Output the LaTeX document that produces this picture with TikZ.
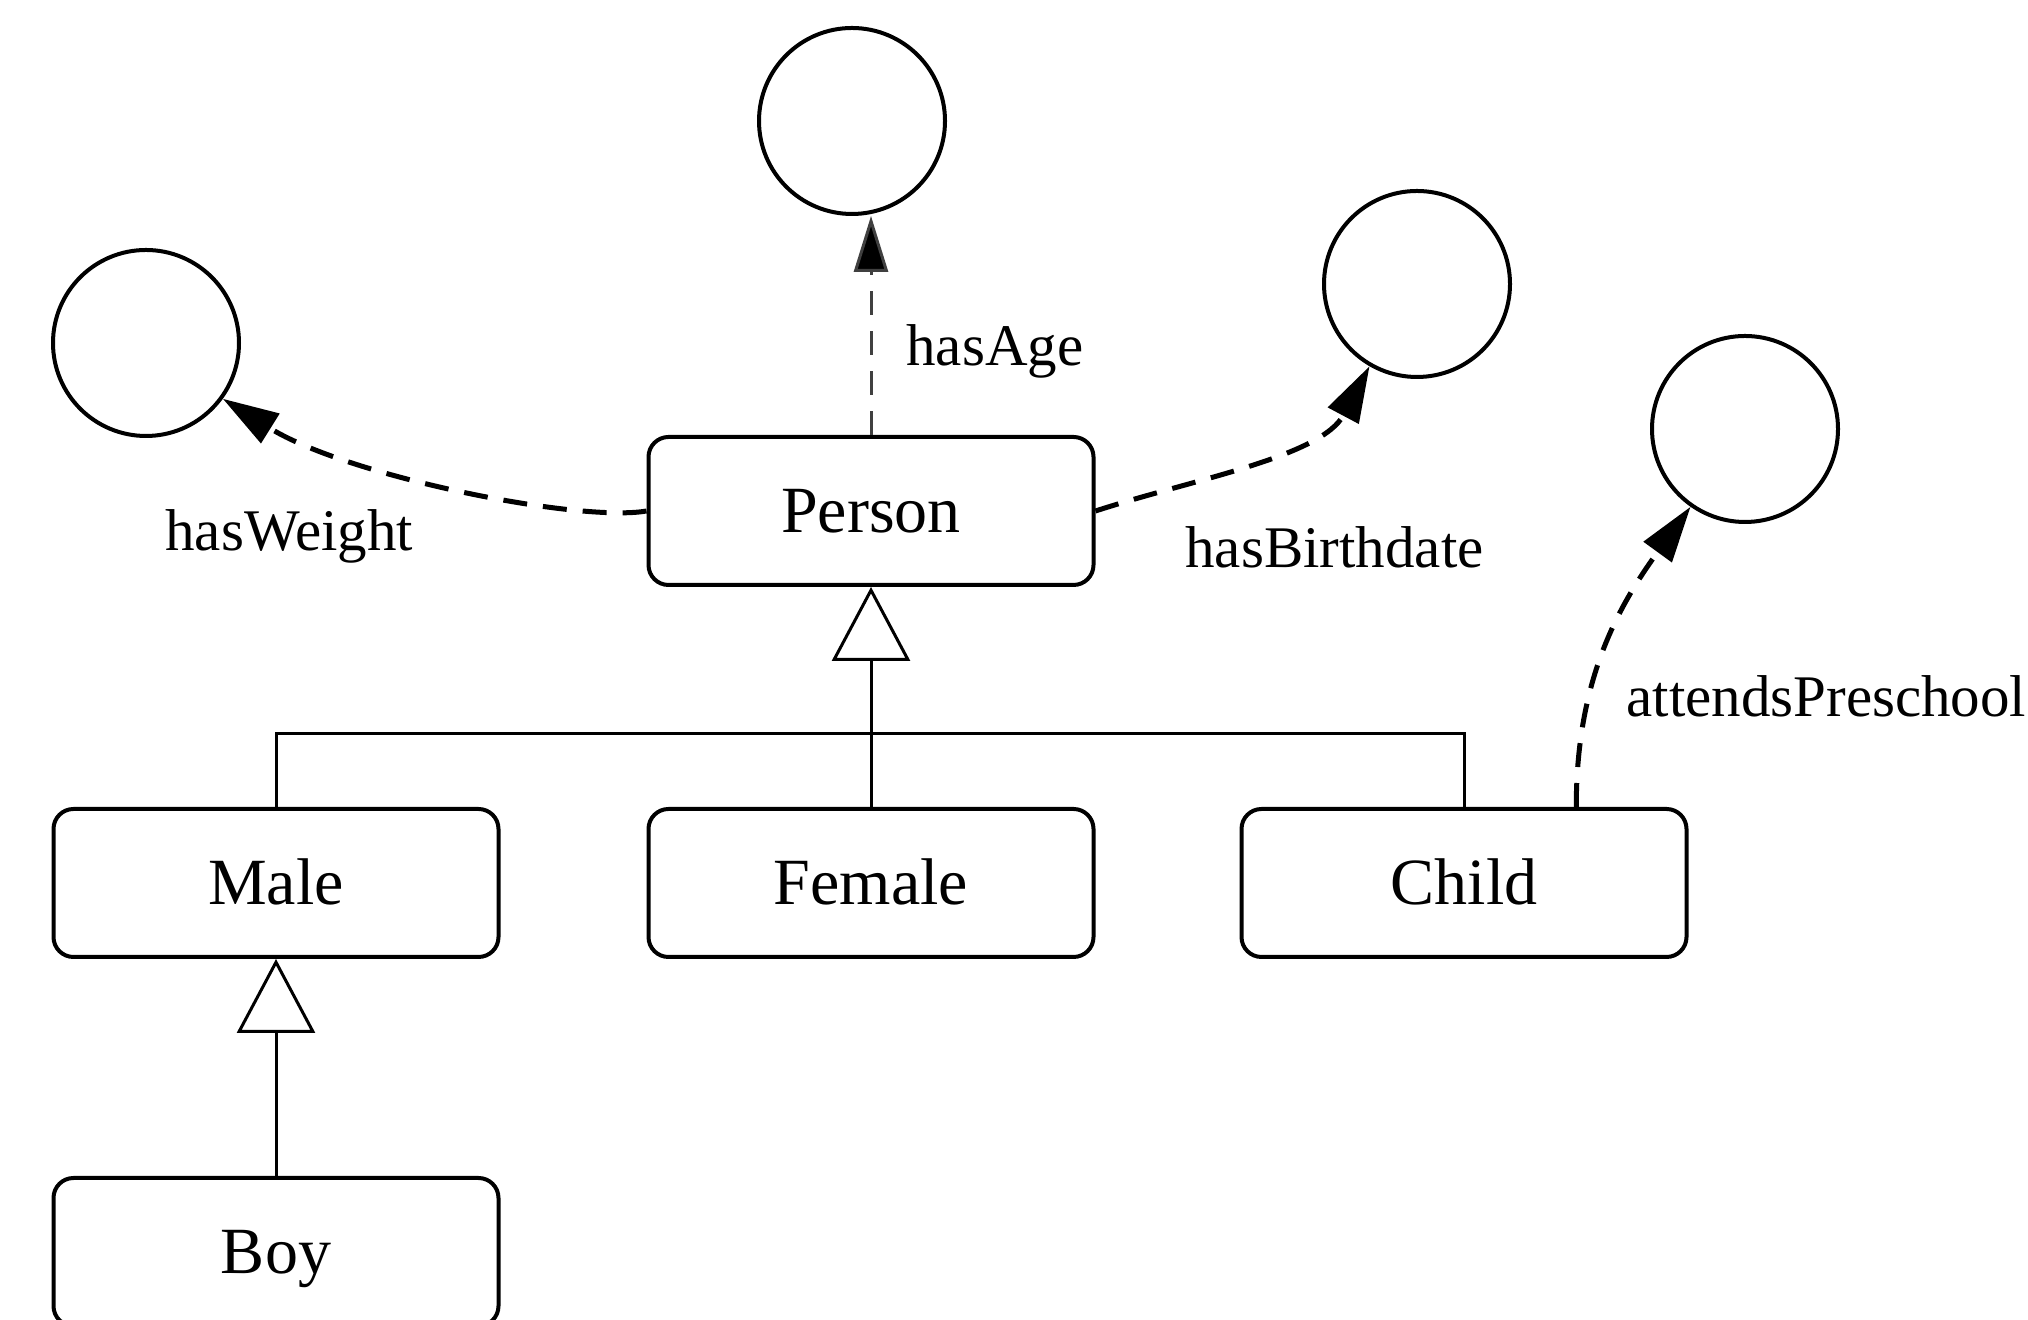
\documentclass[tikz,border=0pt]{standalone}
\usepackage{fontspec}
\setmainfont{Liberation Serif}
\usetikzlibrary{arrows.meta,calc}
\begin{document}
\begin{tikzpicture}[x=0.5pt,y=0.5pt,
  cls/.style={draw, line width=2pt, rounded corners=10pt, minimum width=222.5pt, minimum height=74pt, inner sep=0pt, text height=22pt, text depth=0pt, font=\fontsize{33}{36}\selectfont},
  val/.style={draw, circle, line width=2pt, minimum size=93pt, inner sep=0pt},
  lbl/.style={anchor=base west, inner sep=0pt, font=\fontsize{29.5}{32}\selectfont},
  prop/.style={line width=2.5pt, dash pattern=on 12pt off 8pt, -{Triangle[length=28pt,width=17pt]}},
  propthin/.style={line width=1.5pt, draw=black!75, dash pattern=on 12pt off 8pt, -{Triangle[length=28pt,width=17pt,fill=black]}},
  isa/.style={line width=1.5pt, -{Triangle[open,length=37pt,width=39pt]}},
  tree/.style={line width=1.5pt}
]
\fill[white] (0,0) rectangle (2028,1320);
\useasboundingbox (0,0) rectangle (2028,1320);

% class boxes
\node[cls] (person) at (871,809) {Person};
\node[cls] (male)   at (276,437) {Male};
\node[cls] (female) at (871,437) {Female};
\node[cls] (child)  at (1464,437) {Child};
\node[cls] (boy)    at (276,68) {Boy};

% value circles
\node[val] (agecirc)    at (852,1199) {};
\node[val] (weightcirc) at (146,977) {};
\node[val] (birthcirc)  at (1417,1036) {};
\node[val] (schoolcirc) at (1745,891) {};

% hierarchy
\coordinate (bar) at (871,586);
\draw[tree] (male.north) |- (bar) -| (child.north);
\draw[isa] (female.north) -- (person.south);
\draw[isa] (boy.north) -- (male.south);

% properties
\draw[propthin] (person.north) -- (agecirc.south -| person.north);
\draw[prop] (person.west) to[out=190,in=-32,out looseness=0.4,in looseness=0.85] (weightcirc.-36);
\draw[prop] (person.east) to[out=18,in=-118,looseness=0.85] (birthcirc.240);
\coordinate (cstart) at ($(child.north west)!0.75!(child.north east)$);
\draw[prop] (cstart) to[out=90,in=-126] (schoolcirc.235);

% labels
\node[lbl] (lage)    at (906,954) {hasAge};
\node[lbl] (lweight) at (165,769) {hasWeight};
\node[lbl] (lbirth)  at (1185,752) {hasBirthdate};
\node[lbl] (lschool) at (1626,603) {attendsPreschool};
\end{tikzpicture}
\end{document}
